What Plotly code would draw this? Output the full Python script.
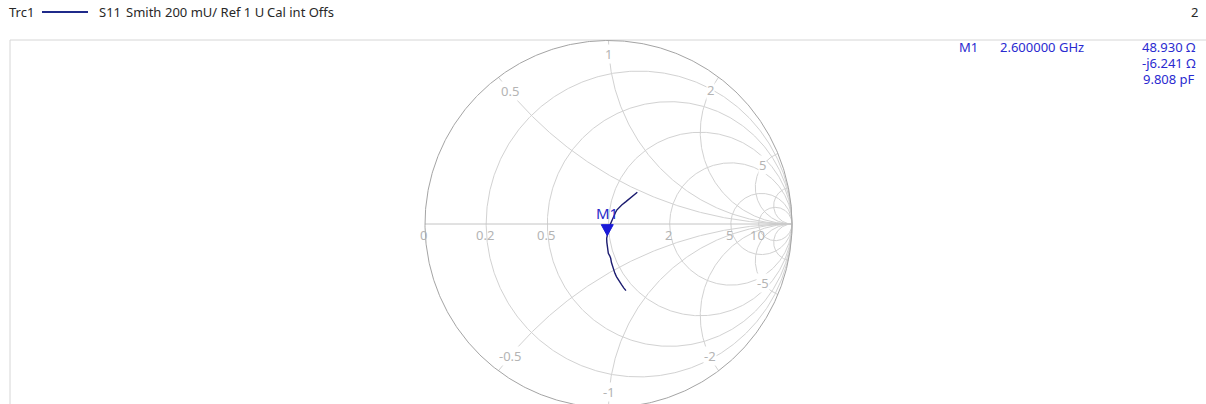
import numpy as np
import plotly.graph_objects as go

W, H = 1206, 404

# ---- Smith chart grid values ----
resistance_grid = [0.2, 0.5, 1, 2, 5, 10]
reactance_grid = [0.5, 1, 2, 5, 10]
real_axis_values = [0, 0.2, 0.5, 2, 5, 10]
real_axis_labels = ["0", "0.2", "0.5", "2", "5", "10"]
reactance_label_values = [0.5, 1, 2, 5, -0.5, -1, -2, -5]
reactance_label_texts = ["0.5", "1", "2", "5", "-0.5", "-1", "-2", "-5"]

# ---- S11 trace (reflection coefficient) ----
s11_re = [0.157, 0.140, 0.117, 0.095, 0.072, 0.058, 0.045, 0.038, 0.032, 0.024,
          0.017, 0.010, 0.004, -0.002, -0.007, -0.010, -0.009, -0.007, -0.004,
          -0.001, 0.006, 0.012, 0.016, 0.023, 0.029, 0.035, 0.044, 0.053, 0.062,
          0.072, 0.083, 0.095]
s11_im = [0.173, 0.158, 0.140, 0.122, 0.104, 0.091, 0.076, 0.063, 0.049, 0.031,
          0.013, -0.002, -0.015, -0.040, -0.063, -0.078, -0.100, -0.124, -0.143,
          -0.160, -0.172, -0.187, -0.210, -0.233, -0.250, -0.269, -0.288, -0.305,
          -0.318, -0.332, -0.348, -0.363]

# ---- Marker M1 ----
z0 = 50.0
m1_name = "M1"
m1_freq = "2.600000 GHz"
m1_res = 48.930
m1_reac = -6.241
m1_cap = "9.808 pF"

# header texts
header_trace = "Trc1"
header_parts = ["S11", "Smith", "200 mU/ Ref 1 U", "Cal int Offs"]
channel_label = "2"

# ---- layout / style (pixels in the browser window) ----
CX, CY, R = 608.5, 224.0, 183.5
header_x = [97, 124, 163, 265]
label_dist = {"0.5": 18, "1": 13, "2": 15, "5": 19,
              "-0.5": 19, "-1": 15, "-2": 17, "-5": 19}

FONT = "Noto Sans"
GRID = "#d2d2d2"
OUTER = "#a4a4a4"
LABEL = "#b4b4b4"


def gamma(z):
    return (z - 1) / (z + 1)


fig = go.Figure()

# resistance circles
t = np.linspace(0, 2 * np.pi, 721)
for r in resistance_grid:
    c = r / (1 + r)
    rad = 1 / (1 + r)
    fig.add_trace(go.Scatter(x=c + rad * np.cos(t), y=rad * np.sin(t), mode="lines",
                             line=dict(color=GRID, width=1), hoverinfo="skip"))

# reactance arcs
rr = np.concatenate([[0], np.logspace(-3, 5, 1200)])
for xv in reactance_grid:
    for s in (1, -1):
        g = gamma(rr + 1j * s * xv)
        fig.add_trace(go.Scatter(x=g.real, y=g.imag, mode="lines",
                                 line=dict(color=GRID, width=1), hoverinfo="skip"))

# real axis
fig.add_trace(go.Scatter(x=[-1, 1], y=[0, 0], mode="lines",
                         line=dict(color="#c4c4c4", width=1), hoverinfo="skip"))

# outer circle
fig.add_trace(go.Scatter(x=np.cos(t), y=np.sin(t), mode="lines",
                         line=dict(color=OUTER, width=1), hoverinfo="skip"))

# S11 trace
fig.add_trace(go.Scatter(x=s11_re, y=s11_im, mode="lines",
                         line=dict(color="#1c1c70", width=1.4), hoverinfo="skip"))

m1_g = gamma(complex(m1_res, m1_reac) / z0)

annotations = []
# real axis labels
for v, txt in zip(real_axis_values, real_axis_labels):
    gx = gamma(v)
    annotations.append(dict(x=gx, y=0, xref="x", yref="y", text=txt, showarrow=False,
                            xanchor="center", yanchor="middle", xshift=-1.5, yshift=-11,
                            font=dict(family=FONT, size=13, color=LABEL)))


def point_along_arc(xv, dist_px):
    g = gamma(rr + 1j * xv)
    seg = np.abs(np.diff(g)) * R
    cum = np.concatenate([[0], np.cumsum(seg)])
    i = int(np.searchsorted(cum, dist_px))
    return g[min(i, len(g) - 1)]


# reactance labels (placed along their arcs, just inside the outer circle)
for v, txt in zip(reactance_label_values, reactance_label_texts):
    g = point_along_arc(v, label_dist[txt])
    annotations.append(dict(x=g.real, y=g.imag, xref="x", yref="y", text=txt,
                            showarrow=False, xanchor="center", yanchor="middle",
                            bgcolor="white", borderpad=0,
                            font=dict(family=FONT, size=13, color=LABEL)))

# marker label
annotations.append(dict(x=m1_g.real, y=m1_g.imag, xref="x", yref="y", text=m1_name,
                        showarrow=False, xanchor="center", yanchor="middle", yshift=23,
                        font=dict(family=FONT, size=15, color="#2828c8")))


def px(xp):
    return xp / W


def py(yp):
    return 1 - yp / H


hdr_font = dict(family=FONT, size=13, color="#282828")
annotations.append(dict(x=px(7), y=py(12), xref="paper", yref="paper", text=header_trace,
                        showarrow=False, xanchor="left", yanchor="middle", font=hdr_font))
for xp, txt in zip(header_x, header_parts):
    annotations.append(dict(x=px(xp), y=py(12), xref="paper", yref="paper", text=txt,
                            showarrow=False, xanchor="left", yanchor="middle", font=hdr_font))
annotations.append(dict(x=px(1200), y=py(12), xref="paper", yref="paper", text=channel_label,
                        showarrow=False, xanchor="right", yanchor="middle", font=hdr_font))

# marker info block
mk_font = dict(family=FONT, size=13, color="#2a2ad0")
info = [
    (px(957), py(47), "left", m1_name),
    (px(998), py(47), "left", m1_freq),
    (px(1197), py(47), "right", f"{m1_res:.3f} Ω"),
    (px(1197), py(63), "right", f"-j{abs(m1_reac):.3f} Ω"),
    (px(1197), py(79), "right", m1_cap),
]
for xx, yy, anc, txt in info:
    annotations.append(dict(x=xx, y=yy, xref="paper", yref="paper", text=txt,
                            showarrow=False, xanchor=anc, yanchor="middle", font=mk_font))

shapes = [
    # frame
    dict(type="rect", xref="paper", yref="paper", x0=px(10), x1=1.02, y0=-0.05, y1=py(40),
         line=dict(color="#d6d6d6", width=1), layer="below"),
    # trace legend line
    dict(type="line", xref="paper", yref="paper", x0=px(42), x1=px(88), y0=py(12), y1=py(12),
         line=dict(color="#1f2a8a", width=2)),
    # marker triangle, tip at marker point
    dict(type="path", xref="x", yref="y", xsizemode="pixel", ysizemode="pixel",
         xanchor=m1_g.real, yanchor=m1_g.imag, path="M-6,11 L6,11 L0,0 Z",
         fillcolor="#1a1ad8", line=dict(color="#1a1ad8", width=1)),
]

fig.update_layout(
    width=W, height=H, autosize=False,
    margin=dict(l=0, r=0, t=0, b=0),
    paper_bgcolor="white", plot_bgcolor="white",
    showlegend=False, hovermode=False,
    xaxis=dict(range=[(0 - CX) / R, (W - CX) / R], visible=False, fixedrange=True),
    yaxis=dict(range=[(CY - H) / R, CY / R], visible=False, fixedrange=True),
    annotations=annotations, shapes=shapes,
)

# remove the default 8px page margin so the figure fills the window exactly
fig.write_html("out.html", config={"displayModeBar": False, "staticPlot": True},
               post_script="document.body.style.margin='0px';")
